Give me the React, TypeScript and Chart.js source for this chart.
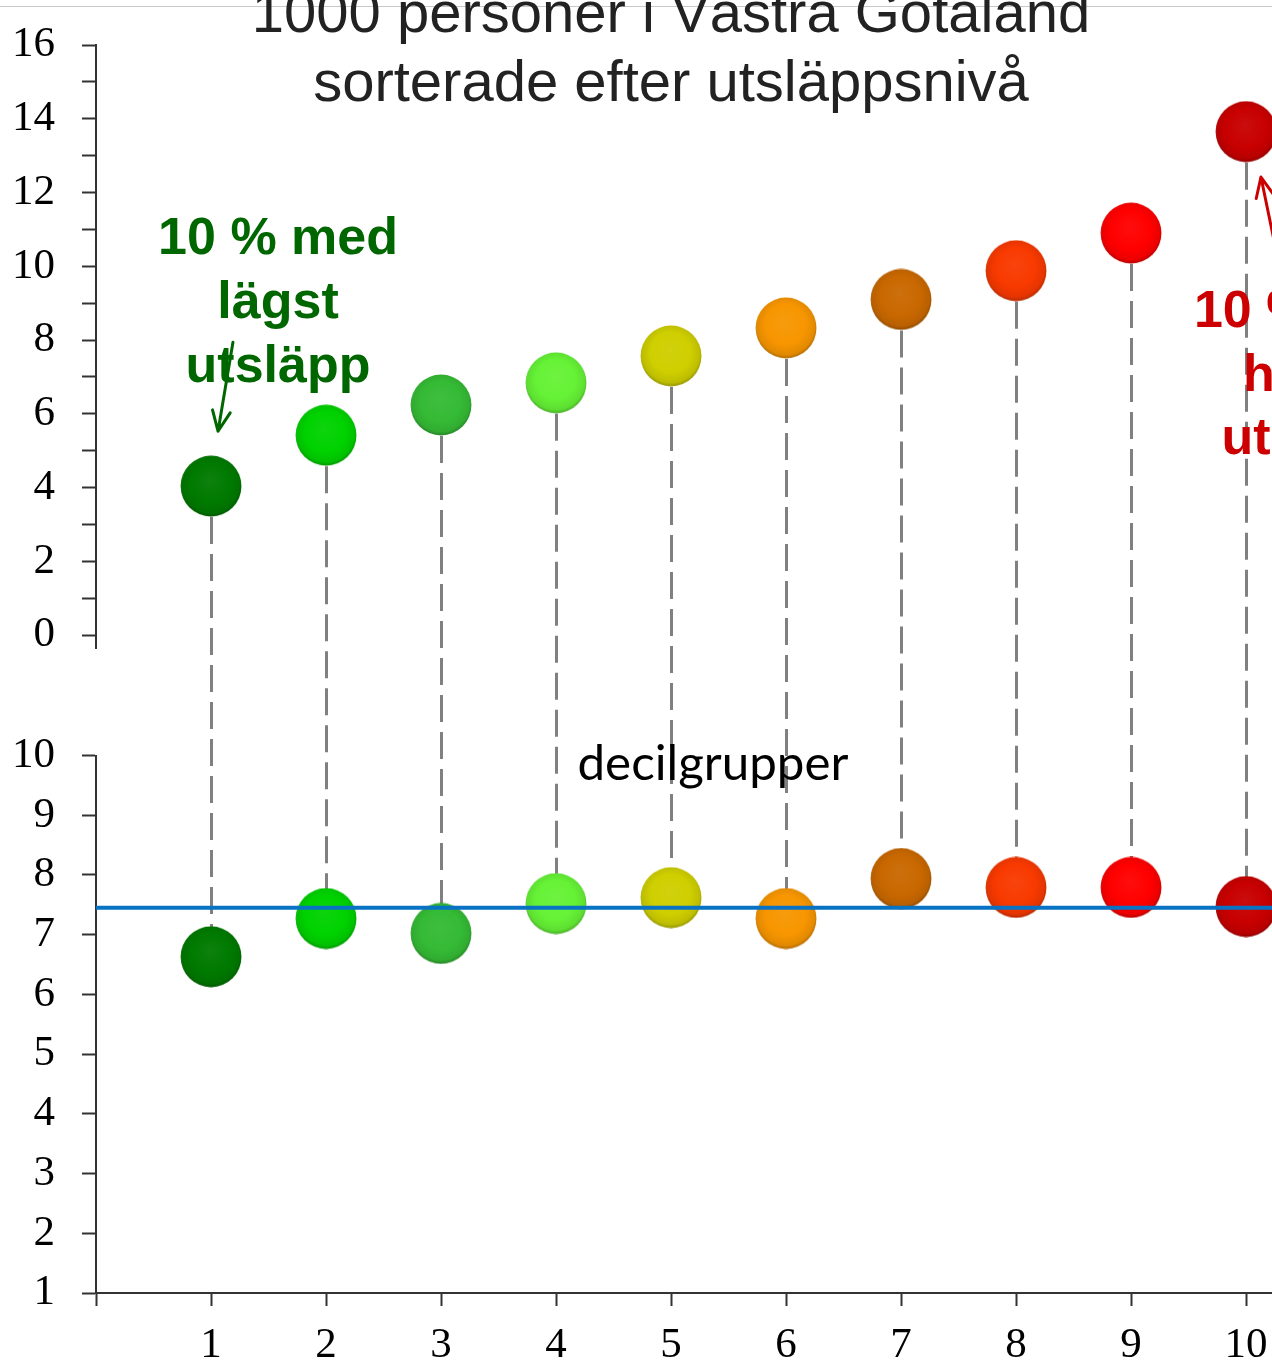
import React, { useEffect, useRef } from 'react';
import { Chart, registerables } from 'chart.js';

Chart.register(...registerables);

// ---------------- data ----------------
const deciles = [1, 2, 3, 4, 5, 6, 7, 8, 9, 10];
const emissionTop = [4.04, 5.42, 6.24, 6.84, 7.57, 8.33, 9.1, 9.88, 10.9, 13.65];
const valueBottom = [6.63, 7.27, 7.02, 7.52, 7.62, 7.27, 7.94, 7.79, 7.79, 7.47];
const averageBottom = 7.45;
const ballColors = [
  '#007a00', '#00d200', '#35bb35', '#66f236', '#cfcf00',
  '#f79600', '#c96800', '#f83a00', '#ff0000', '#c80000',
];
const xTickLabels = ['1', '2', '3', '4', '5', '6', '7', '8', '9', '10'];
const topTickLabels = ['0', '2', '4', '6', '8', '10', '12', '14', '16'];
const bottomTickLabels = ['1', '2', '3', '4', '5', '6', '7', '8', '9', '10'];
const titleLines = ['1000 personer i Västra Götaland', 'sorterade efter utsläppsnivå'];
const lowNote = ['10 % med', 'lägst', 'utsläpp'];
const highNote = ['10 % med', 'högst', 'utsläpp'];
const axisNote = 'decilgrupper';

// annotation anchors (data coordinates)
const lowNoteAnchor = { x: 1.583, ys: [10.33, 8.59, 6.86] };
const highNoteAnchor = { x: 10.59, ys: [8.35, 6.61, 4.91] };
const lowArrow = { from: { x: 1.191, y: 7.94 }, to: { x: 1.061, y: 5.53 } };
const highArrow = { from: { x: 10.27, y: 10.3 }, to: { x: 10.13, y: 12.42 } };
const axisNoteAnchor = { x: 5.365, y: 9.59 };

const X_MAX = 10.226;
const BALL_R = 31;
const SERIF = '"Liberation Serif", "Times New Roman", serif';
const SANS = '"Liberation Sans", Arial, sans-serif';

function hexToRgb(h: string): number[] {
  const n = parseInt(h.slice(1), 16);
  return [(n >> 16) & 255, (n >> 8) & 255, n & 255];
}
function shade(rgb: number[], f: number): string {
  const c = rgb.map((v) => (f >= 1 ? Math.round(v + (255 - v) * (f - 1)) : Math.round(v * f)));
  return `rgb(${c[0]},${c[1]},${c[2]})`;
}
function makeBall(color: string, r: number): HTMLCanvasElement {
  const c = document.createElement('canvas');
  c.width = r * 2;
  c.height = r * 2;
  const g = c.getContext('2d')!;
  const rgb = hexToRgb(color);
  const grad = g.createRadialGradient(r * 0.95, r * 0.8, r * 0.05, r, r * 0.95, r * 1.05);
  grad.addColorStop(0, shade(rgb, 1.05));
  grad.addColorStop(0.6, shade(rgb, 1.0));
  grad.addColorStop(0.88, shade(rgb, 0.92));
  grad.addColorStop(1, shade(rgb, 0.68));
  g.fillStyle = grad;
  g.beginPath();
  g.arc(r, r, r - 0.6, 0, Math.PI * 2);
  g.fill();
  return c;
}

function drawArrow(ctx: CanvasRenderingContext2D, x1: number, y1: number, x2: number, y2: number, color: string) {
  const ang = Math.atan2(y2 - y1, x2 - x1);
  const head = 22;
  const spread = 0.42;
  ctx.save();
  ctx.strokeStyle = color;
  ctx.lineWidth = 3;
  ctx.lineCap = 'round';
  ctx.lineJoin = 'round';
  ctx.beginPath();
  ctx.moveTo(x1, y1);
  ctx.lineTo(x2, y2);
  ctx.moveTo(x2 - head * Math.cos(ang - spread), y2 - head * Math.sin(ang - spread));
  ctx.lineTo(x2, y2);
  ctx.lineTo(x2 - head * Math.cos(ang + spread), y2 - head * Math.sin(ang + spread));
  ctx.stroke();
  ctx.restore();
}

const decorPlugin = {
  id: 'decor',
  beforeDatasetsDraw(chart: any) {
    const { ctx, scales } = chart;
    const x = scales.x, yT = scales.yTop, yB = scales.yBot;
    ctx.save();
    ctx.strokeStyle = '#808080';
    ctx.lineWidth = 3;
    ctx.setLineDash([27, 10]);
    deciles.forEach((d, i) => {
      const px = Math.round(x.getPixelForValue(d)) + 0.5;
      ctx.beginPath();
      ctx.moveTo(px, yT.getPixelForValue(emissionTop[i]) + BALL_R);
      ctx.lineTo(px, yB.getPixelForValue(valueBottom[i]));
      ctx.stroke();
    });
    ctx.restore();
  },
  afterDraw(chart: any) {
    const { ctx, scales } = chart;
    const x = scales.x, yT = scales.yTop, yB = scales.yBot;
    ctx.save();
    // thin slide border line at the top
    ctx.strokeStyle = '#c8c8c8';
    ctx.lineWidth = 1;
    ctx.beginPath();
    ctx.moveTo(0, 6.5);
    ctx.lineTo(chart.width, 6.5);
    ctx.stroke();

    // title
    ctx.fillStyle = '#222222';
    ctx.font = `58px ${SANS}`;
    ctx.textAlign = 'center';
    ctx.textBaseline = 'alphabetic';
    ctx.fillText(titleLines[0], 671, 32);
    ctx.fillText(titleLines[1], 671, 101);

    // notes
    ctx.font = `bold 52px ${SANS}`;
    ctx.fillStyle = '#006600';
    lowNote.forEach((t, i) => ctx.fillText(t, x.getPixelForValue(lowNoteAnchor.x), yT.getPixelForValue(lowNoteAnchor.ys[i])));
    ctx.fillStyle = '#cc0000';
    highNote.forEach((t, i) => ctx.fillText(t, x.getPixelForValue(highNoteAnchor.x), yT.getPixelForValue(highNoteAnchor.ys[i])));

    drawArrow(ctx, x.getPixelForValue(lowArrow.from.x), yT.getPixelForValue(lowArrow.from.y),
      x.getPixelForValue(lowArrow.to.x), yT.getPixelForValue(lowArrow.to.y), '#006600');
    drawArrow(ctx, x.getPixelForValue(highArrow.from.x), yT.getPixelForValue(highArrow.from.y),
      x.getPixelForValue(highArrow.to.x), yT.getPixelForValue(highArrow.to.y), '#cc0000');

    // axis note
    ctx.font = `100px Lato, "Open Sans", sans-serif`;
    const w = ctx.measureText(axisNote).width;
    const size = (100 * 271) / w;
    ctx.font = `${size.toFixed(1)}px Lato, "Open Sans", sans-serif`;
    ctx.fillStyle = '#000000';
    ctx.fillText(axisNote, x.getPixelForValue(axisNoteAnchor.x), yB.getPixelForValue(axisNoteAnchor.y));
    ctx.restore();
  },
};

export default function App() {
  const ref = useRef<HTMLCanvasElement | null>(null);
  useEffect(() => {
    document.body.style.margin = '0';
    document.body.style.overflow = 'hidden';
    const balls = ballColors.map((c) => makeBall(c, BALL_R));
    const tickFont = { family: SERIF, size: 43 };
    const gridCommon = {
      display: true,
      drawOnChartArea: false,
      drawTicks: true,
      tickColor: '#333333',
      tickWidth: 2,
    };
    const yFit = (s: any) => {
      s.width = 96;
      s.paddingTop = 0;
      s.paddingBottom = 0;
    };
    const chart = new Chart(ref.current!, {
      type: 'scatter',
      data: {
        datasets: [
          {
            type: 'line',
            label: 'medel',
            data: [{ x: 0, y: averageBottom }, { x: X_MAX, y: averageBottom }],
            yAxisID: 'yBot',
            borderColor: '#0872c4',
            borderWidth: 4,
            pointRadius: 0,
            order: 0,
            clip: false,
          } as any,
          {
            label: 'utsläpp',
            data: deciles.map((d, i) => ({ x: d, y: emissionTop[i] })),
            yAxisID: 'yTop',
            pointStyle: balls as any,
            pointRadius: BALL_R,
            order: 1,
            clip: false,
          } as any,
          {
            label: 'index',
            data: deciles.map((d, i) => ({ x: d, y: valueBottom[i] })),
            yAxisID: 'yBot',
            pointStyle: balls as any,
            pointRadius: BALL_R,
            order: 1,
            clip: false,
          } as any,
        ],
      },
      options: {
        responsive: false,
        animation: false,
        devicePixelRatio: 1,
        layout: { autoPadding: false, padding: { top: 45, left: 0, right: 0, bottom: 0 } },
        plugins: { legend: { display: false }, tooltip: { enabled: false }, title: { display: false } },
        events: [],
        scales: {
          x: {
            type: 'linear',
            position: 'bottom',
            min: 0,
            max: X_MAX,
            afterBuildTicks: (s: any) => {
              s.ticks = [0, ...deciles].map((v) => ({ value: v }));
            },
            afterFit: (s: any) => {
              s.height = 70;
              s.paddingLeft = 0;
              s.paddingRight = 0;
            },
            ticks: {
              font: tickFont,
              color: '#000000',
              padding: 14,
              autoSkip: false,
              maxRotation: 0,
              callback: (v: any) => (v >= 1 ? xTickLabels[v - 1] : ''),
            },
            grid: { ...gridCommon, tickLength: 13 },
            border: { display: true, color: '#333333', width: 2 },
          },
          yBot: {
            type: 'linear',
            position: 'left',
            stack: 'panels',
            stackWeight: 537.5,
            min: 1,
            max: 10,
            afterBuildTicks: (s: any) => {
              s.ticks = bottomTickLabels.map((t) => ({ value: Number(t) }));
            },
            afterFit: yFit,
            ticks: { font: tickFont, color: '#000000', padding: 27, autoSkip: false },
            grid: { ...gridCommon, tickLength: 14 },
            border: { display: true, color: '#333333', width: 2 },
          },
          yGap: {
            type: 'linear',
            position: 'left',
            stack: 'panels',
            stackWeight: 107.5,
            display: false,
            min: 0,
            max: 1,
          },
          yTop: {
            type: 'linear',
            position: 'left',
            stack: 'panels',
            stackWeight: 603,
            min: -0.35,
            max: 16,
            afterBuildTicks: (s: any) => {
              const t: any[] = [];
              for (let v = 0; v <= 16; v++) t.push({ value: v });
              s.ticks = t;
            },
            afterFit: yFit,
            ticks: {
              font: tickFont,
              color: '#000000',
              padding: 27,
              autoSkip: false,
              callback: (v: any) => (topTickLabels.includes(String(v)) ? String(v) : ''),
            },
            grid: { ...gridCommon, tickLength: 14 },
            border: { display: true, color: '#333333', width: 2 },
          },
        } as any,
      },
      plugins: [decorPlugin],
    });
    return () => chart.destroy();
  }, []);

  return (
    <div style={{ position: 'absolute', left: 0, top: 0, width: 1272, height: 1363, background: '#ffffff' }}>
      <canvas ref={ref} width={1272} height={1363} style={{ display: 'block' }} />
    </div>
  );
}
